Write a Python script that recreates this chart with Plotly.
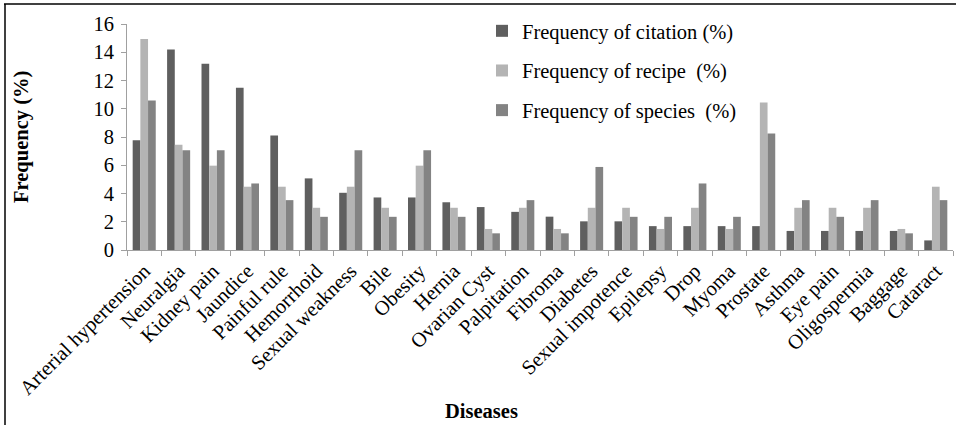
import plotly.graph_objects as go

diseases = ["Arterial hypertension", "Neuralgia", "Kidney pain", "Jaundice", "Painful rule",
            "Hemorrhoid", "Sexual weakness", "Bile", "Obesity", "Hernia", "Ovarian Cyst",
            "Palpitation", "Fibroma", "Diabetes", "Sexual impotence", "Epilepsy", "Drop",
            "Myoma", "Prostate", "Asthma", "Eye pain", "Oligospermia", "Baggage", "Cataract"]

citation = [7.77, 14.19, 13.18, 11.49, 8.11, 5.07, 4.05, 3.72, 3.72, 3.38, 3.04, 2.70,
            2.36, 2.03, 2.03, 1.69, 1.69, 1.69, 1.69, 1.35, 1.35, 1.35, 1.35, 0.68]
recipe = [14.93, 7.46, 5.97, 4.48, 4.48, 2.99, 4.48, 2.99, 5.97, 2.99, 1.49, 2.99,
          1.49, 2.99, 2.99, 1.49, 2.99, 1.49, 10.45, 2.99, 2.99, 2.99, 1.49, 4.48]
species = [10.59, 7.06, 7.06, 4.71, 3.53, 2.35, 7.06, 2.35, 7.06, 2.35, 1.18, 3.53,
           1.18, 5.88, 2.35, 2.35, 4.71, 2.35, 8.24, 3.53, 2.35, 3.53, 1.18, 3.53]

series_names = ["Frequency of citation (%)", "Frequency of recipe  (%)", "Frequency of species  (%)"]
series_colors = ["#5f5f5f", "#b4b4b4", "#838383"]
y_ticks = [0, 2, 4, 6, 8, 10, 12, 14, 16]

FONT = "Liberation Serif, Times New Roman, serif"
FS = 20.5

fig = go.Figure()
for name, vals, col in zip(series_names, [citation, recipe, species], series_colors):
    fig.add_trace(go.Bar(x=diseases, y=vals, name=name, legendgroup=name,
                         marker=dict(color=col, line=dict(width=0))))

W, H = 956, 425
L, R, T, B = 127, 3, 24, 175
pw, ph = W - L - R, H - T - B

def px(xp):
    return (xp - L) / pw

def py(yp):
    return (H - B - yp) / ph

fig.update_layout(
    width=W, height=H,
    margin=dict(l=L, r=R, t=T, b=B, autoexpand=False),
    paper_bgcolor="white", plot_bgcolor="white",
    barmode="group", bargap=0.33, bargroupgap=0,
    font=dict(family=FONT, size=FS, color="black"),
    showlegend=True,
    legend=dict(x=px(482), y=py(11), xanchor="left", yanchor="top",
                font=dict(family=FONT, size=FS, color="black"),
                tracegroupgap=10, bgcolor="rgba(0,0,0,0)", itemwidth=30),
    xaxis=dict(type="category", showline=True, linecolor="#a0a0a0", linewidth=1,
               ticks="outside", tickson="boundaries", ticklen=5, tickcolor="#a0a0a0",
               tickangle=-45, tickfont=dict(family=FONT, size=FS, color="black"),
               automargin=False, showgrid=False, zeroline=False),
    yaxis=dict(range=[0, 16], tickvals=y_ticks, showline=True, linecolor="#a0a0a0",
               linewidth=1, ticks="outside", ticklen=5, tickcolor="#a0a0a0",
               ticklabelstandoff=3,
               tickfont=dict(family=FONT, size=FS, color="black"),
               automargin=False, showgrid=False, zeroline=False),
    annotations=[
        dict(text="<b>Frequency (%)</b>", x=px(21), y=py(137), xref="paper", yref="paper",
             xanchor="center", yanchor="middle",
             showarrow=False, textangle=-90, font=dict(family=FONT, size=FS, color="black")),
        dict(text="<b>Diseases</b>", x=px(481), y=py(411), xref="paper", yref="paper",
             xanchor="center", yanchor="middle",
             showarrow=False, font=dict(family=FONT, size=FS, color="black")),
    ],
    shapes=[
        dict(type="line", xref="paper", yref="paper", x0=px(4), x1=px(956), y0=py(4), y1=py(4),
             line=dict(color="black", width=1.5)),
        dict(type="line", xref="paper", yref="paper", x0=px(5), x1=px(5), y0=py(4), y1=py(425),
             line=dict(color="black", width=1.5)),
    ],
)

fig.write_html("out.html")
